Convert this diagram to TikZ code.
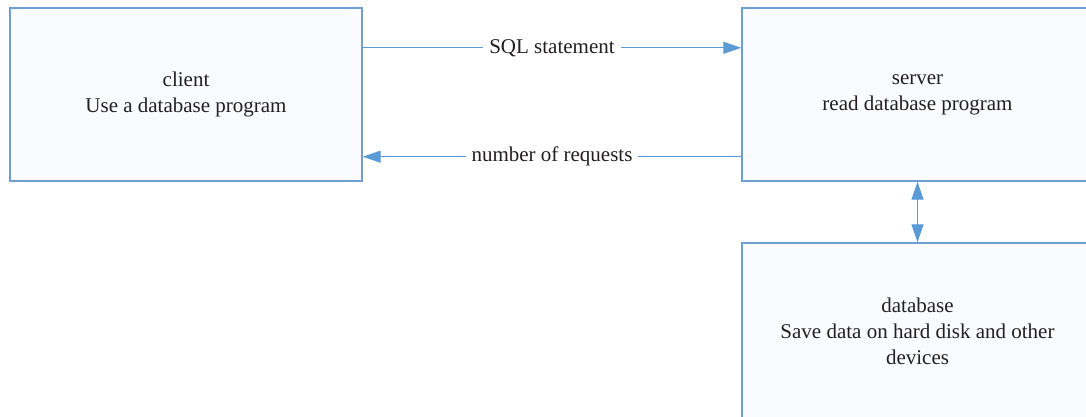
\documentclass[tikz,border=0pt]{standalone}
\usepackage{fontspec}
\setmainfont{Liberation Serif}
\newfontfamily\bodyface{Liberation Serif}
\usetikzlibrary{arrows.meta}
\definecolor{boxline}{HTML}{6E9FD2}
\definecolor{boxfill}{HTML}{F9FBFE}
\definecolor{arrowblue}{HTML}{5B9BD5}
\definecolor{ink}{HTML}{231F20}
\tikzset{
  block/.style={draw=boxline, line width=1.4pt, fill=boxfill, rectangle,
    text=ink, align=center, font=\bodyface\fontsize{21}{26}\selectfont, inner sep=0pt},
  flow/.style={draw=arrowblue, line width=1.2pt,
    -{Triangle[length=18pt,width=12pt]}},
  both/.style={draw=arrowblue, line width=1.2pt,
    {Triangle[length=18pt,width=12pt]}-{Triangle[length=18pt,width=12pt]}},
  tag/.style={fill=white, text=ink, inner xsep=6pt, inner ysep=2pt,
    font=\bodyface\fontsize{21}{26}\selectfont}
}
\begin{document}
\begin{tikzpicture}[x=1pt, y=-1pt]
  \useasboundingbox (0,0) rectangle (1086,417);
  \fill[white] (0,0) rectangle (1086,417);
  \begin{scope}
    \clip (0,0) rectangle (1086,417);
    \node[block, minimum width=352pt, minimum height=173pt] (client) at (186,94.5)
      {client\\Use a database program};
    \node[block, minimum width=351pt, minimum height=173pt] (server) at (917.5,94.5)
      {server\\read database program};
    \node[block, minimum width=351pt, minimum height=176pt] (database) at (917.5,331)
      {database\\Save data on hard disk and other\\devices};
  \end{scope}
  \draw[flow] ([yshift=-40.5pt]client.north east) -- ([yshift=-40.5pt]server.north west)
    node[tag, midway] {SQL statement};
  \draw[flow] ([yshift=25pt]server.south west) -- ([yshift=25pt]client.south east)
    node[tag, midway] {number of requests};
  \draw[both] (server.south) -- (database.north);
\end{tikzpicture}
\end{document}
